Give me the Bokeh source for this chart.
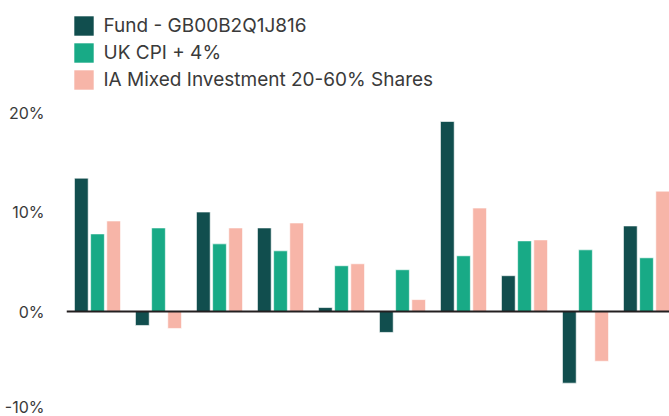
from bokeh.plotting import figure
from bokeh.models import ColumnDataSource, Span, FixedTicker, Legend, LegendItem, Range1d
from bokeh.embed import file_html
from bokeh.resources import INLINE

periods = ["P1", "P2", "P3", "P4", "P5", "P6", "P7", "P8", "P9", "P10"]
fund = [13.4, -1.4, 10.0, 8.4, 0.4, -2.1, 19.1, 3.6, -7.2, 8.6]
cpi = [7.8, 8.4, 6.8, 6.1, 4.6, 4.2, 5.6, 7.1, 6.2, 5.4]
sector = [9.1, -1.7, 8.4, 8.9, 4.8, 1.2, 10.4, 7.2, -5.0, 12.1]
series_names = ["Fund - GB00B2Q1J816", "UK CPI + 4%", "IA Mixed Investment 20-60% Shares"]
colors = ["#114e4e", "#18aa86", "#f7b5a8"]
y_ticks = [-10, 0, 10, 20]

FONT = "Inter"
idx = list(range(len(periods)))

p = figure(width=669, height=416, output_backend="svg", toolbar_location=None,
           x_axis_location=None, tools="",
           x_range=Range1d(-0.508, 9.377), y_range=Range1d(-10.55, 31.26),
           min_border=0, min_border_left=66, min_border_right=0,
           min_border_top=0, min_border_bottom=0)
p.outline_line_color = None
p.xgrid.visible = False
p.ygrid.visible = False
p.background_fill_color = "white"
p.border_fill_color = "white"

offsets = [-0.265, 0.0, 0.265]
renderers = []
for vals, off, col in zip([fund, cpi, sector], offsets, colors):
    src = ColumnDataSource(dict(x=[i + off for i in idx], top=vals))
    r = p.vbar(x="x", top="top", bottom=0, width=0.225, source=src,
               fill_color=col, line_color="white", line_width=1, line_alpha=0.6)
    renderers.append(r)

p.add_layout(Span(location=0, dimension="width", line_color="#231f20", line_width=2))

ax = p.yaxis[0]
ax.ticker = FixedTicker(ticks=y_ticks)
ax.major_label_overrides = {t: f"{t}%" for t in y_ticks}
ax.axis_line_color = None
ax.major_tick_line_color = None
ax.minor_tick_line_color = None
ax.major_label_standoff = 16
ax.major_label_text_font = FONT
ax.major_label_text_font_size = "16px"
ax.major_label_text_color = "#3a3a3a"

legend = Legend(items=[LegendItem(label=n, renderers=[r]) for n, r in zip(series_names, renderers)],
                location=(4.5, 324.5), orientation="vertical")
legend.glyph_width = 25
legend.glyph_height = 25
legend.label_height = 25
legend.spacing = 2
legend.padding = 0
legend.margin = 0
legend.label_standoff = 8
legend.label_text_font = FONT
legend.label_text_font_size = "19px"
legend.label_text_color = "#3a3a3a"
legend.border_line_color = None
legend.background_fill_alpha = 0
p.add_layout(legend)

open("out.html", "w").write(file_html(p, INLINE))
